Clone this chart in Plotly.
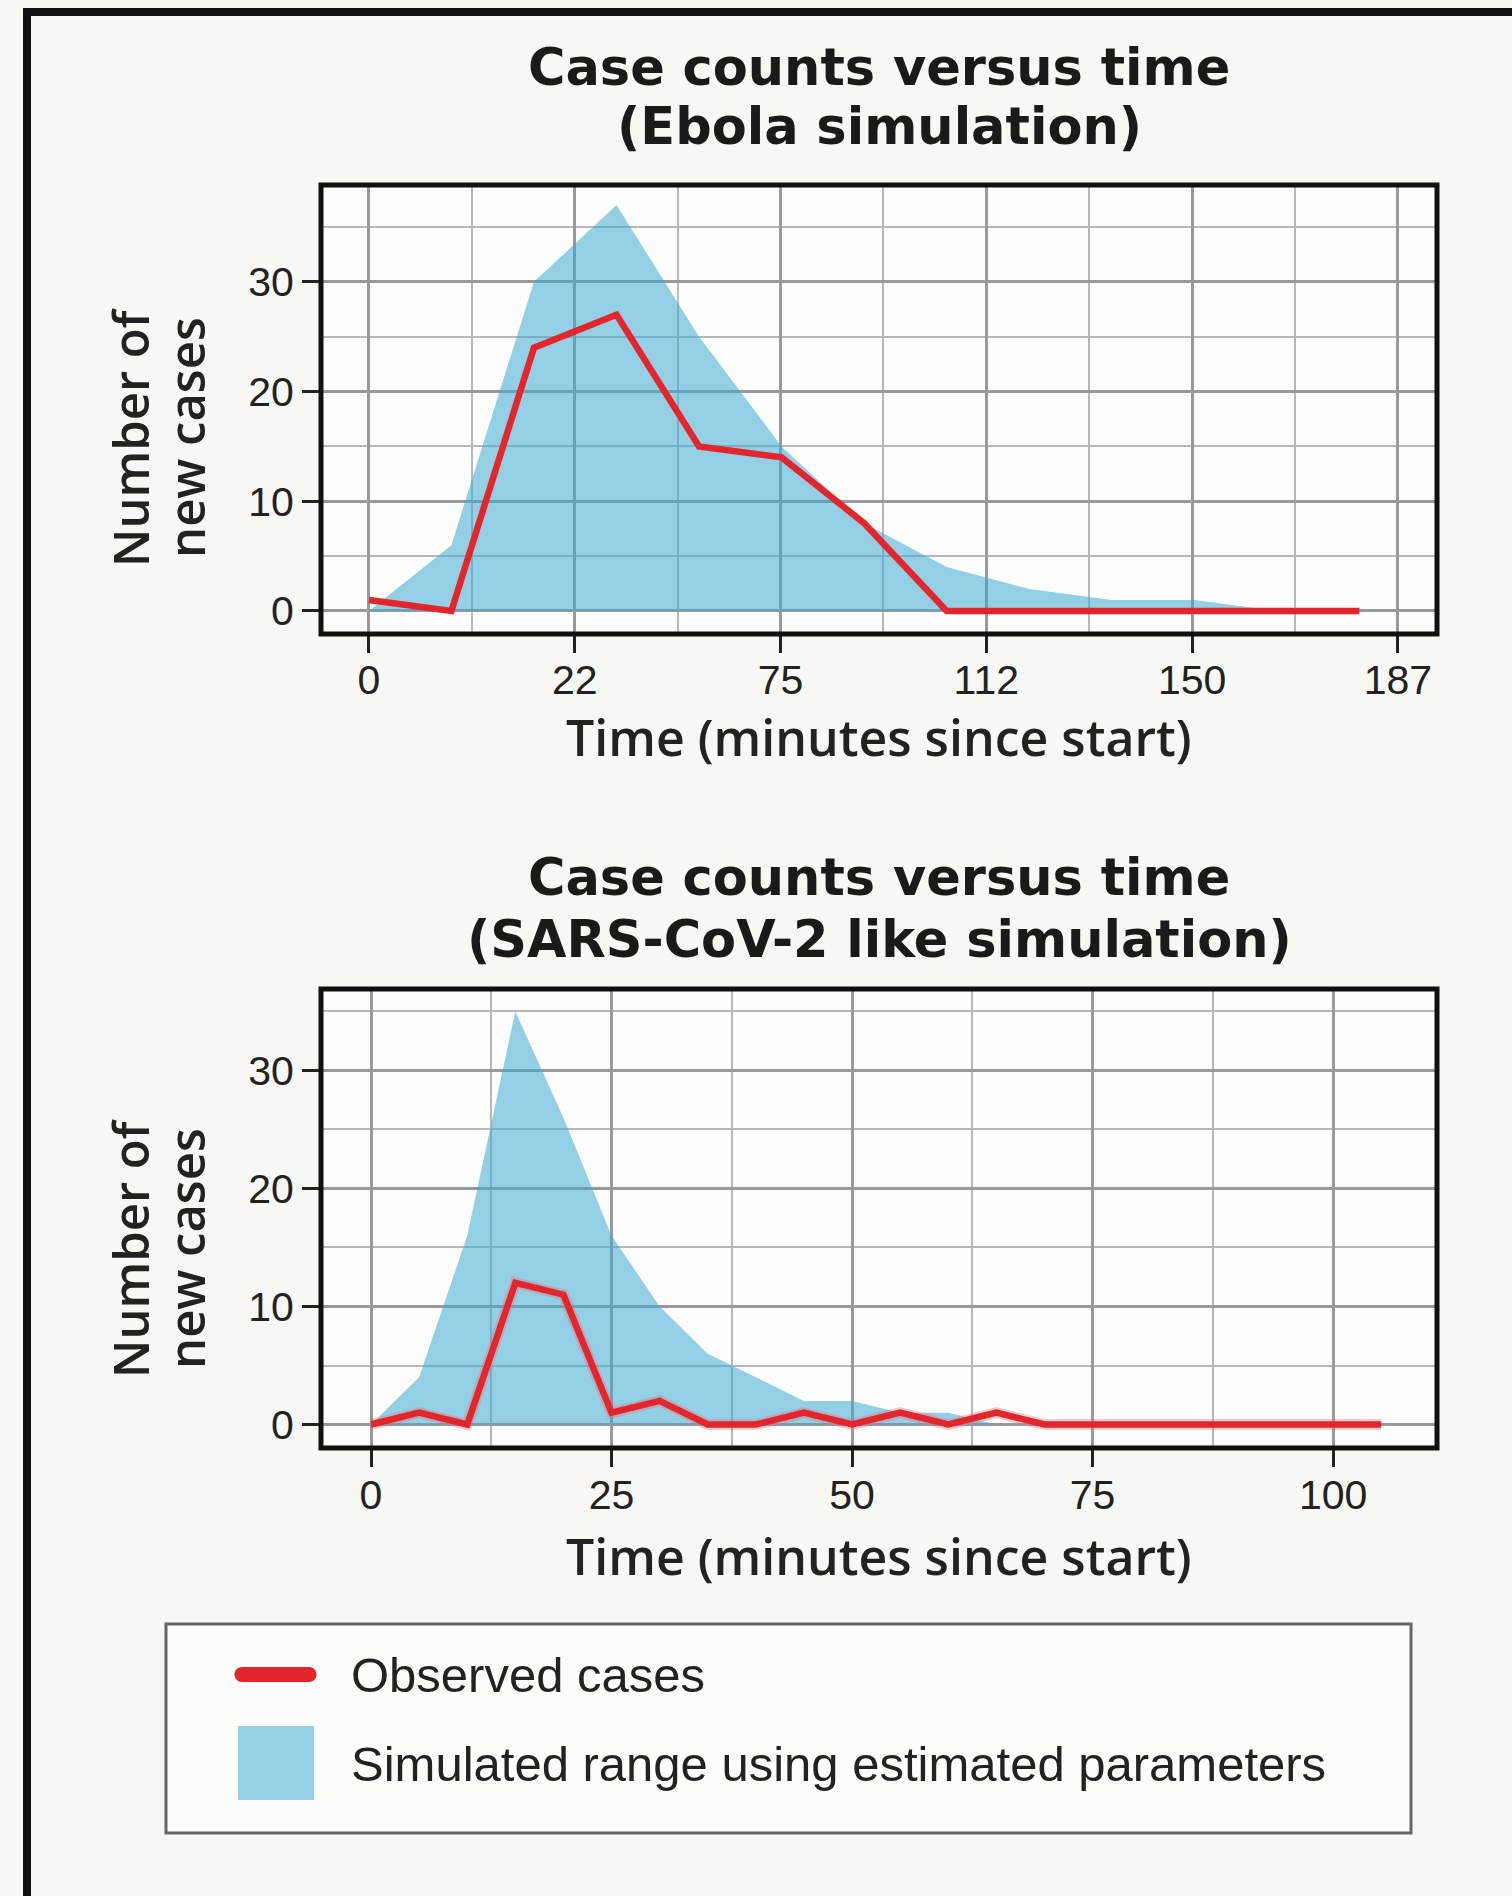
import plotly.graph_objects as go

W, H = 1512, 1896

# ---------------- data ----------------
ebola_time = [0, 15, 30, 45, 60, 75, 90, 105, 120, 135, 150, 165, 180]
ebola_observed = [1, 0, 24, 27, 15, 14, 8, 0, 0, 0, 0, 0, 0]
ebola_sim_upper = [0, 6, 30, 37, 25, 15, 8, 4, 2, 1, 1, 0, 0]
ebola_tick_labels = ["0", "22", "75", "112", "150", "187"]
ebola_axis_max = 187

sars_time = [0, 5, 10, 15, 20, 25, 30, 35, 40, 45, 50, 55, 60, 65, 70, 75, 80, 85, 90, 95, 100, 105]
sars_observed = [0, 1, 0, 12, 11, 1, 2, 0, 0, 1, 0, 1, 0, 1, 0, 0, 0, 0, 0, 0, 0, 0]
sars_sim_upper = [0, 4, 16, 35, 26, 16, 10, 6, 4, 2, 2, 1, 1, 0, 0, 0, 0, 0, 0, 0, 0, 0]
sars_tick_vals = [0, 25, 50, 75, 100]

y_tick_vals = [0, 10, 20, 30]

titles_top = ["Case counts versus time", "(Ebola simulation)"]
titles_bottom = ["Case counts versus time", "(SARS-CoV-2 like simulation)"]
x_title = "Time (minutes since start)"
y_title = ["Number of", "new cases"]
legend_labels = ["Observed cases", "Simulated range using estimated parameters"]

# ---------------- styles ----------------
RED = "#e3262c"
FILL = "rgba(60,170,210,0.55)"
FILL_SOLID = "rgb(148,208,230)"
GRID = "#999999"
GRID_MINOR = "#b8b8b8"
TXT = "#222222"
PAPER = "#f7f7f3"
PLOTBG = "#fdfdfd"


def px(x):
    return x / W


def py(y):
    return 1 - y / H


fig = go.Figure()

# Ebola panel
fig.add_trace(go.Scatter(x=ebola_time, y=ebola_sim_upper, fill="tozeroy", mode="lines",
                         line=dict(width=0, color=FILL), fillcolor=FILL,
                         name=legend_labels[1], showlegend=False, xaxis="x", yaxis="y"))
fig.add_trace(go.Scatter(x=ebola_time, y=ebola_observed, mode="lines",
                         line=dict(width=6.5, color=RED), name=legend_labels[0],
                         showlegend=False, xaxis="x", yaxis="y"))

# SARS panel
fig.add_trace(go.Scatter(x=sars_time, y=sars_sim_upper, fill="tozeroy", mode="lines",
                         line=dict(width=0, color=FILL), fillcolor=FILL,
                         name=legend_labels[1], showlegend=False, xaxis="x2", yaxis="y2"))
fig.add_trace(go.Scatter(x=sars_time, y=sars_observed, mode="lines",
                         line=dict(width=11, color="rgba(240,110,120,0.35)"),
                         hoverinfo="skip", showlegend=False, xaxis="x2", yaxis="y2"))
fig.add_trace(go.Scatter(x=sars_time, y=sars_observed, mode="lines",
                         line=dict(width=6.5, color=RED), name=legend_labels[0],
                         showlegend=False, xaxis="x2", yaxis="y2"))

tickfont = dict(family="Liberation Sans, Arial, sans-serif", size=41, color=TXT)
ebola_tick_vals = [i * ebola_axis_max / (len(ebola_tick_labels) - 1) for i in range(len(ebola_tick_labels))]

common = dict(showline=False, zeroline=False, showgrid=True, gridcolor=GRID, gridwidth=3,
              ticks="outside", ticklen=18, tickwidth=2.5, tickcolor=TXT, tickfont=tickfont)


def minor(dt):
    return dict(tickmode="linear", tick0=0, dtick=dt, showgrid=True,
                gridcolor=GRID_MINOR, gridwidth=2, ticks="")


xdom = [px(321), px(1437)]
fig.update_layout(
    xaxis=dict(domain=xdom, anchor="y", range=[-8.7, 194.1], tickmode="array",
               tickvals=ebola_tick_vals, ticktext=ebola_tick_labels,
               minor=minor(ebola_axis_max / 10), ticklabelstandoff=-8, **common),
    yaxis=dict(domain=[py(634), py(185)], anchor="x", range=[-2.1, 38.83], tickmode="array",
               tickvals=y_tick_vals, minor=minor(5), **common),
    xaxis2=dict(domain=xdom, anchor="y2", range=[-5.2, 110.8], tickmode="array",
                tickvals=sars_tick_vals, minor=minor(12.5), ticklabelstandoff=-7, **common),
    yaxis2=dict(domain=[py(1448), py(989)], anchor="x2", range=[-1.99, 36.9], tickmode="array",
                tickvals=y_tick_vals, minor=minor(5), **common),
)

shapes = []
# plot borders
for xr, yr in (("x domain", "y domain"), ("x2 domain", "y2 domain")):
    shapes.append(dict(type="rect", xref=xr, yref=yr, x0=0, x1=1, y0=0, y1=1,
                       line=dict(color="#111111", width=5), layer="above"))
# outer frame (left and top edges)
shapes.append(dict(type="line", xref="paper", yref="paper", x0=px(27), x1=px(27), y0=py(8), y1=-0.05,
                   line=dict(color="#111111", width=8)))
shapes.append(dict(type="line", xref="paper", yref="paper", x0=px(23), x1=1.05, y0=py(12), y1=py(12),
                   line=dict(color="#111111", width=8)))
# legend box
shapes.append(dict(type="rect", xref="paper", yref="paper", x0=px(166), x1=px(1411), y0=py(1833), y1=py(1624),
                   line=dict(color="#666666", width=3), fillcolor="#fcfcfb", layer="below"))
# legend red line with rounded ends
lx0, lx1, ly, r = 242, 309, 1674.5, 7.5


def P(x, y):
    return f"{px(x)},{py(y)}"


k = 0.5523 * r
path = (f"M {P(lx0, ly - r)} L {P(lx1, ly - r)} "
        f"C {P(lx1 + k, ly - r)} {P(lx1 + r, ly - k)} {P(lx1 + r, ly)} "
        f"C {P(lx1 + r, ly + k)} {P(lx1 + k, ly + r)} {P(lx1, ly + r)} "
        f"L {P(lx0, ly + r)} "
        f"C {P(lx0 - k, ly + r)} {P(lx0 - r, ly + k)} {P(lx0 - r, ly)} "
        f"C {P(lx0 - r, ly - k)} {P(lx0 - k, ly - r)} {P(lx0, ly - r)} Z")
shapes.append(dict(type="path", xref="paper", yref="paper", path=path,
                   fillcolor=RED, line=dict(width=0)))
# legend blue square
shapes.append(dict(type="rect", xref="paper", yref="paper", x0=px(238), x1=px(314), y0=py(1800), y1=py(1726),
                   fillcolor=FILL_SOLID, line=dict(width=0)))

annotations = []
tfont = dict(family="DejaVu Sans, sans-serif", size=51, color="#1a1a1a")
afont = dict(family="Open Sans, DejaVu Sans, sans-serif", size=50, color=TXT, weight=600)
yfont = dict(family="Open Sans, DejaVu Sans, sans-serif", size=49, color=TXT, weight=600)
lfont = dict(family="Liberation Sans, Arial, sans-serif", size=49, color=TXT)


def ann(text, x, y, font, angle=0, xanchor="center", bold=False):
    t = f"<b>{text}</b>" if bold else text
    annotations.append(dict(text=t, x=px(x), y=py(y), xref="paper", yref="paper", showarrow=False,
                            xanchor=xanchor, yanchor="middle", font=font, textangle=angle))


ann(titles_top[0], 879, 67, tfont, bold=True)
ann(titles_top[1], 879, 127, tfont, bold=True)
ann(titles_bottom[0], 879, 877, tfont, bold=True)
ann(titles_bottom[1], 879, 939, tfont, bold=True)

ann(x_title, 879, 737, afont)
ann(x_title, 879, 1556, afont)

ann(y_title[0], 130, 438, yfont, angle=-90)
ann(y_title[1], 186, 438, yfont, angle=-90)
ann(y_title[0], 130, 1249, yfont, angle=-90)
ann(y_title[1], 186, 1249, yfont, angle=-90)

ann(legend_labels[0], 349, 1675, lfont, xanchor="left")
ann(legend_labels[1], 349, 1764, lfont, xanchor="left")

fig.update_layout(
    width=W, height=H, autosize=False,
    margin=dict(l=0, r=0, t=0, b=0),
    paper_bgcolor=PAPER, plot_bgcolor=PLOTBG,
    showlegend=False,
    shapes=shapes, annotations=annotations,
)

fig.write_html("out.html")
